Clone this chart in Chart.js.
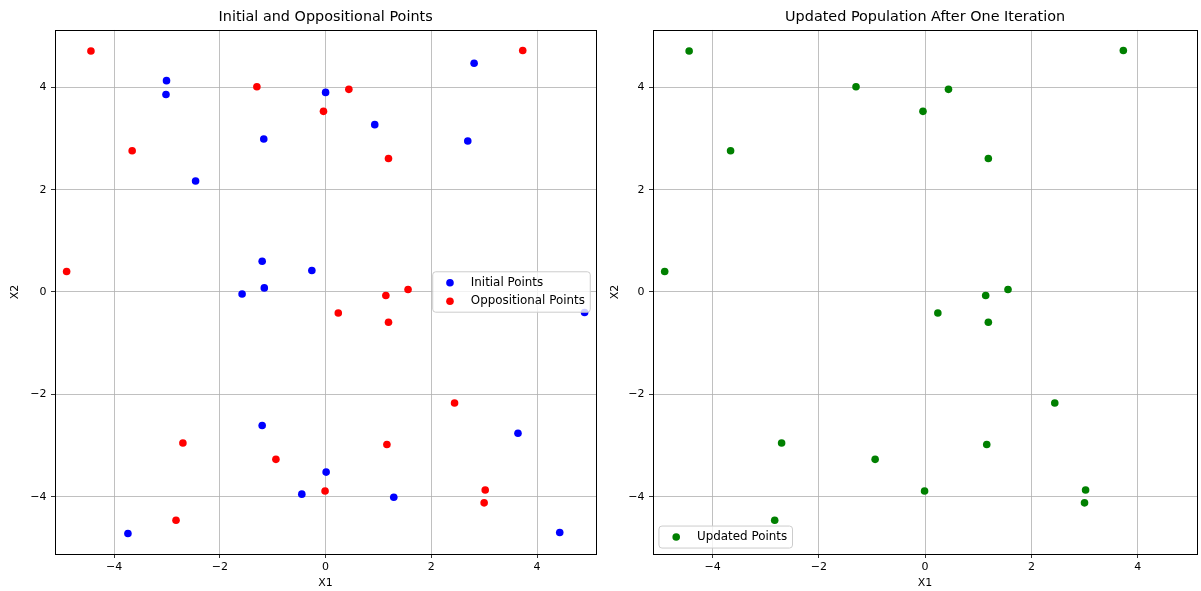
<!DOCTYPE html>
<html><head><meta charset="utf-8">
<script src="https://cdn.jsdelivr.net/npm/chart.js@4.4.1/dist/chart.umd.min.js"></script>
<style>
html,body{margin:0;padding:0;background:#fff;}
#wrap{position:relative;width:1201px;height:591px;overflow:hidden;background:#fff;}
#c1{position:absolute;left:0;top:0;}
#c2{position:absolute;left:600px;top:0;}
</style></head><body>
<div id="wrap"><canvas id="c1" width="600" height="591"></canvas><canvas id="c2" width="601" height="591"></canvas></div>
<script>
// ---- data ----
const initialX = [2.81, -3.01, -3.02, 0.00, 0.93, -1.17, 2.69, -2.46, -1.20, -0.26, -1.58, -1.16, 4.90, -1.20, 3.64, 0.01, -0.45, 1.29, -3.74, 4.43];
const initialY = [4.47, 4.13, 3.86, 3.90, 3.27, 2.99, 2.95, 2.17, 0.60, 0.42, -0.04, 0.08, -0.40, -2.61, -2.76, -3.52, -3.95, -4.01, -4.72, -4.70];
const oppositionalX = [-2.83, 3.00, 3.02, -0.01, -0.94, 1.16, -2.70, 2.44, 1.19, 0.24, 1.56, 1.14, -4.90, 1.19, -3.66, -0.04, 0.44, -1.30, 3.73, -4.44];
const oppositionalY = [-4.46, -4.12, -3.87, -3.89, -3.27, -2.98, -2.95, -2.17, -0.59, -0.41, 0.05, -0.07, 0.40, 2.61, 2.76, 3.53, 3.96, 4.01, 4.72, 4.71];
const updatedX = [-2.83, 3.00, 3.02, -0.01, -0.94, 1.16, -2.70, 2.44, 1.19, 0.24, 1.56, 1.14, -4.90, 1.19, -3.66, -0.04, 0.44, -1.30, 3.73, -4.44];
const updatedY = [-4.46, -4.12, -3.87, -3.89, -3.27, -2.98, -2.95, -2.17, -0.59, -0.41, 0.05, -0.07, 0.40, 2.61, 2.76, 3.53, 3.96, 4.01, 4.72, 4.71];
const xTickValues = [-4, -2, 0, 2, 4];
const yTickValues = [-4, -2, 0, 2, 4];
const axisMin = -5.12;
const axisMax = 5.12;
const leftTitle = 'Initial and Oppositional Points';
const rightTitle = 'Updated Population After One Iteration';
const xLabel = 'X1';
const yLabel = 'X2';

const FONT = '"DejaVu Sans", "Liberation Sans", sans-serif';
const TICK_SIZE = 11;
const toPts = (xs, ys) => xs.map((x, i) => ({x: x, y: ys[i]}));
const fmt = v => (v < 0 ? '\u2212' + Math.abs(v) : String(v));

// frame (all four spines)
const framePlugin = {
  id: 'frame',
  afterDraw(chart) {
    const {ctx, chartArea: a} = chart;
    ctx.save();
    ctx.strokeStyle = '#000';
    ctx.lineWidth = 1;
    ctx.strokeRect(Math.round(a.left) + 0.5, Math.round(a.top) + 0.5, Math.round(a.right - a.left), Math.round(a.bottom - a.top));
    ctx.restore();
  }
};

// matplotlib-like legend box
const legendPlugin = {
  id: 'mplLegend',
  afterDraw(chart, args, opts) {
    const {ctx, chartArea: a} = chart;
    const f = opts.fontSize;
    ctx.save();
    ctx.font = f + 'px ' + FONT;
    const items = chart.data.datasets.map(d => ({label: d.label, color: d.backgroundColor}));
    const tw = Math.max(...items.map(i => ctx.measureText(i.label).width));
    const w = 3.2 * f + tw + 0.45 * f;
    const rowGap = 18.4, rowBase = 22;
    const h = rowBase + (items.length - 1) * rowGap;
    const pad = 0.5 * f;
    let x, y;
    if (opts.loc === 'center right') { x = a.right - pad - w; y = (a.top + a.bottom) / 2 - h / 2; }
    else { x = a.left + pad; y = a.bottom - pad - h; }
    const r = 3;
    ctx.beginPath();
    ctx.moveTo(x + r, y);
    ctx.arcTo(x + w, y, x + w, y + h, r);
    ctx.arcTo(x + w, y + h, x, y + h, r);
    ctx.arcTo(x, y + h, x, y, r);
    ctx.arcTo(x, y, x + w, y, r);
    ctx.closePath();
    ctx.fillStyle = 'rgba(255,255,255,0.8)';
    ctx.fill();
    ctx.strokeStyle = '#cccccc';
    ctx.lineWidth = 1;
    ctx.stroke();
    items.forEach((it, i) => {
      const cy = y + 11 + i * rowGap;
      ctx.beginPath();
      ctx.arc(x + 1.45 * f, cy, 3.8, 0, Math.PI * 2);
      ctx.fillStyle = it.color;
      ctx.fill();
      ctx.fillStyle = '#000';
      ctx.textBaseline = 'middle';
      ctx.textAlign = 'left';
      ctx.fillText(it.label, x + 3.2 * f, cy);
    });
    ctx.restore();
  }
};

function makeChart(canvasId, datasets, title, yWidth, rightPad, legendLoc) {
  return new Chart(document.getElementById(canvasId), {
    type: 'scatter',
    data: {datasets: datasets},
    plugins: [framePlugin, legendPlugin],
    options: {
      responsive: false,
      animation: false,
      devicePixelRatio: 1,
      events: [],
      layout: {padding: {left: 0, right: rightPad, top: 0, bottom: 0}},
      elements: {point: {radius: 3.8, borderWidth: 0, hoverRadius: 3.8}},
      plugins: {
        legend: {display: false},
        tooltip: {enabled: false},
        title: {
          display: true, text: title, fullSize: false, color: '#000',
          font: {family: FONT, size: 14.4, weight: 'normal', lineHeight: 1.2},
          padding: {top: 9, bottom: 3.7}
        },
        mplLegend: {fontSize: 11.9, loc: legendLoc}
      },
      scales: {
        x: {
          type: 'linear', position: 'bottom', min: axisMin, max: axisMax,
          afterBuildTicks: s => { s.ticks = xTickValues.map(v => ({value: v})); },
          afterFit: s => { s.height = 37; },
          ticks: {callback: v => fmt(v), color: '#000', font: {family: FONT, size: TICK_SIZE}, padding: 3, maxRotation: 0},
          grid: {color: '#b0b0b0', lineWidth: 0.8, tickColor: '#000', tickLength: 4, drawTicks: true},
          border: {display: false},
          title: {display: true, text: xLabel, color: '#000', font: {family: FONT, size: TICK_SIZE}, padding: {top: 0, bottom: 1}}
        },
        y: {
          type: 'linear', position: 'left', min: axisMin, max: axisMax,
          afterBuildTicks: s => { s.ticks = yTickValues.map(v => ({value: v})); },
          afterFit: s => { s.width = yWidth; },
          ticks: {callback: v => fmt(v), color: '#000', font: {family: FONT, size: TICK_SIZE}, padding: 4.5},
          grid: {color: '#b0b0b0', lineWidth: 0.8, tickColor: '#000', tickLength: 4, drawTicks: true},
          border: {display: false},
          title: {display: true, text: yLabel, color: '#000', font: {family: FONT, size: TICK_SIZE}, padding: {top: 8.5, bottom: 0}}
        }
      }
    }
  });
}

makeChart('c1', [
  {label: 'Initial Points', data: toPts(initialX, initialY), backgroundColor: '#0000ff', borderColor: '#0000ff'},
  {label: 'Oppositional Points', data: toPts(oppositionalX, oppositionalY), backgroundColor: '#ff0000', borderColor: '#ff0000'}
], leftTitle, 55, 1, 'center right');

makeChart('c2', [
  {label: 'Updated Points', data: toPts(updatedX, updatedY), backgroundColor: '#008000', borderColor: '#008000'}
], rightTitle, 53, 3.5, 'lower left');
</script>
</body></html>
